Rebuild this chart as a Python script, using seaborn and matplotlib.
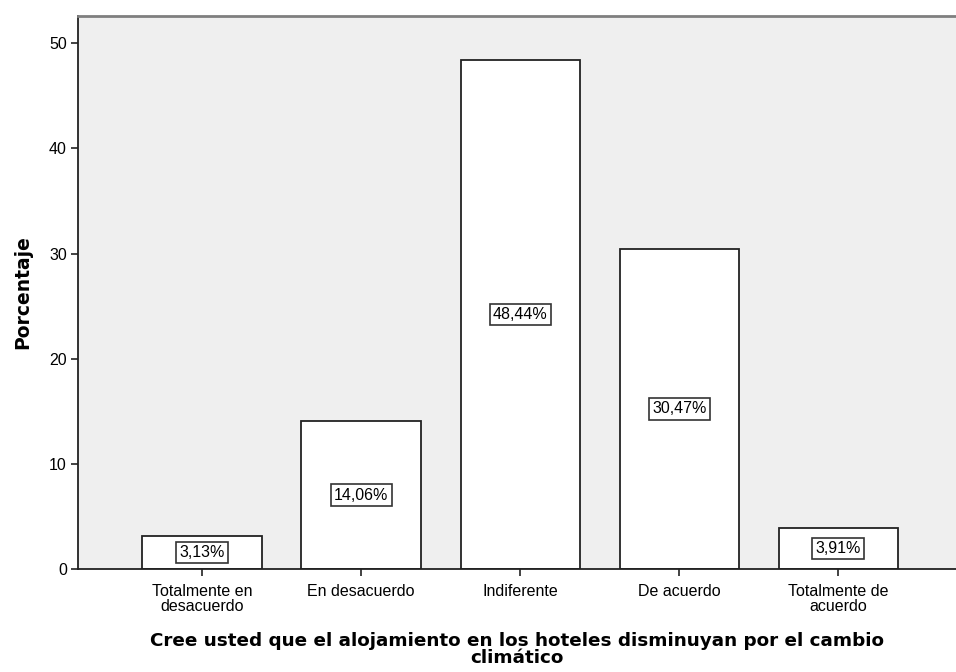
import matplotlib
matplotlib.use("Agg")
import matplotlib.pyplot as plt
import seaborn as sns
import pandas as pd

# =========================
# DATA
# =========================
categorias = ["Totalmente en\ndesacuerdo", "En desacuerdo", "Indiferente",
              "De acuerdo", "Totalmente de\nacuerdo"]
porcentajes = [3.13, 14.06, 48.44, 30.47, 3.91]

df = pd.DataFrame({"categoria": categorias, "porcentaje": porcentajes})

# =========================
# STYLE
# =========================
sns.set_style("white")
plt.rcParams["font.family"] = ["Liberation Sans", "DejaVu Sans"]
plt.rcParams["text.color"] = "black"
plt.rcParams["axes.labelcolor"] = "black"
plt.rcParams["xtick.color"] = "black"
plt.rcParams["ytick.color"] = "black"

fig = plt.figure(figsize=(9.56, 6.72), dpi=100)
ax = fig.add_axes([78 / 956, 1 - 569 / 672, 1 - 78 / 956, (569 - 16) / 672])
ax.set_facecolor("#EFEFEF")

sns.barplot(data=df, x="categoria", y="porcentaje", ax=ax,
            color="white", edgecolor="#222222", linewidth=1.3, width=0.75,
            saturation=1)

# value labels, boxed at mid height
for i, v in enumerate(porcentajes):
    ax.text(i, v / 2, f"{v:.2f}%".replace(".", ","), ha="center", va="center",
            fontsize=11.5, color="black",
            bbox=dict(boxstyle="square,pad=0.2", facecolor="white",
                      edgecolor="#333333", linewidth=1.2))

ax.set_xlim(-0.78, 4.74)
ax.set_ylim(0, 52.6)
ax.set_yticks([0, 10, 20, 30, 40, 50])

for s in ["left", "bottom"]:
    ax.spines[s].set_color("#222222")
    ax.spines[s].set_linewidth(1.3)
ax.spines["top"].set_color("#7f7f7f")
ax.spines["top"].set_linewidth(2)
ax.spines["right"].set_visible(False)

ax.tick_params(axis="both", direction="out", length=5, width=1.2,
               color="#222222", labelsize=11.5, bottom=True, left=True)
ax.tick_params(axis="x", pad=6)
ax.tick_params(axis="y", pad=3)
for lbl in ax.get_xticklabels():
    lbl.set_linespacing(0.95)

ax.set_ylabel("Porcentaje", fontsize=13.5, fontweight="bold",
              family="DejaVu Sans", labelpad=12)
ax.set_xlabel("Cree usted que el alojamiento en los hoteles disminuyan por el cambio\nclimático",
              fontsize=13.2, fontweight="bold", family="DejaVu Sans",
              labelpad=13, linespacing=0.92)

plt.savefig("out.png", dpi=100)
